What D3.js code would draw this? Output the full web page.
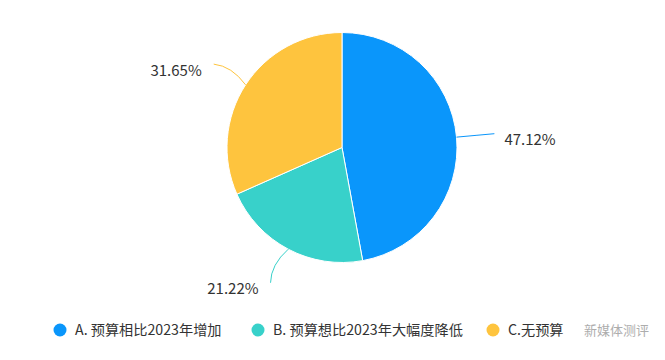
<!DOCTYPE html>
<html><head><meta charset="utf-8">
<script src="https://cdn.jsdelivr.net/npm/d3@7/dist/d3.min.js"></script>
<style>body{margin:0;background:#fff;}svg{display:block;font-family:"Microsoft YaHei","Noto Sans CJK SC",sans-serif;}</style>
</head><body>
<svg id="c" width="665" height="360"></svg>
<script>
const categories = ["A. 预算相比2023年增加", "B. 预算想比2023年大幅度降低", "C.无预算"];
const values = [47.12, 21.22, 31.65];
const labels = ["47.12%", "21.22%", "31.65%"];
const colors = ["#0a96fb", "#38d1ca", "#fec43e"];

const svg = d3.select("#c");
const cx = 342, cy = 147.5, R = 115;
const pie = d3.pie().sort(null).value(d => d)(values);
const arc = d3.arc().innerRadius(0).outerRadius(R);
const g = svg.append("g").attr("transform", `translate(${cx},${cy})`);
g.selectAll("path.s").data(pie).join("path").attr("class","s")
  .attr("d", arc).attr("fill", (d,i)=>colors[i]).attr("stroke","#fff").attr("stroke-width",1);

const pt = (a, r) => [Math.sin(a)*r, -Math.cos(a)*r];
pie.forEach((d,i)=>{
  const a = (d.startAngle + d.endAngle)/2;
  const right = Math.sin(a) > 0;
  const p0 = pt(a, R);
  const c1 = pt(a + (right ? 0 : 0.06), R + 22);
  const p2 = pt(a, R + 38);
  const path = d3.path();
  path.moveTo(p0[0], p0[1]);
  path.quadraticCurveTo(c1[0], c1[1], p2[0], p2[1]);
  g.append("path").attr("d", path.toString()).attr("fill","none").attr("stroke", colors[i]).attr("stroke-width",1);
  g.append("text").attr("x", p2[0] + (right ? 10 : -12)).attr("y", p2[1] + 6)
    .attr("dy","0.36em").attr("text-anchor", right ? "start":"end")
    .attr("font-size",15).attr("fill","#333").text(labels[i]);
});

const legX = [60, 258, 493];
const lg = svg.append("g");
categories.forEach((c,i)=>{
  lg.append("circle").attr("cx", legX[i]).attr("cy", 330).attr("r", 6.5).attr("fill", colors[i]);
  lg.append("text").attr("x", legX[i]+15).attr("y", 330).attr("dy","0.36em")
    .attr("font-size",14.2).attr("fill","#333").text(c);
});
lg.append("text").attr("x", 584).attr("y", 330).attr("dy","0.36em")
  .attr("font-size",13).attr("fill","#999").attr("opacity",0.8).text("新媒体测评");
</script>
</body></html>
